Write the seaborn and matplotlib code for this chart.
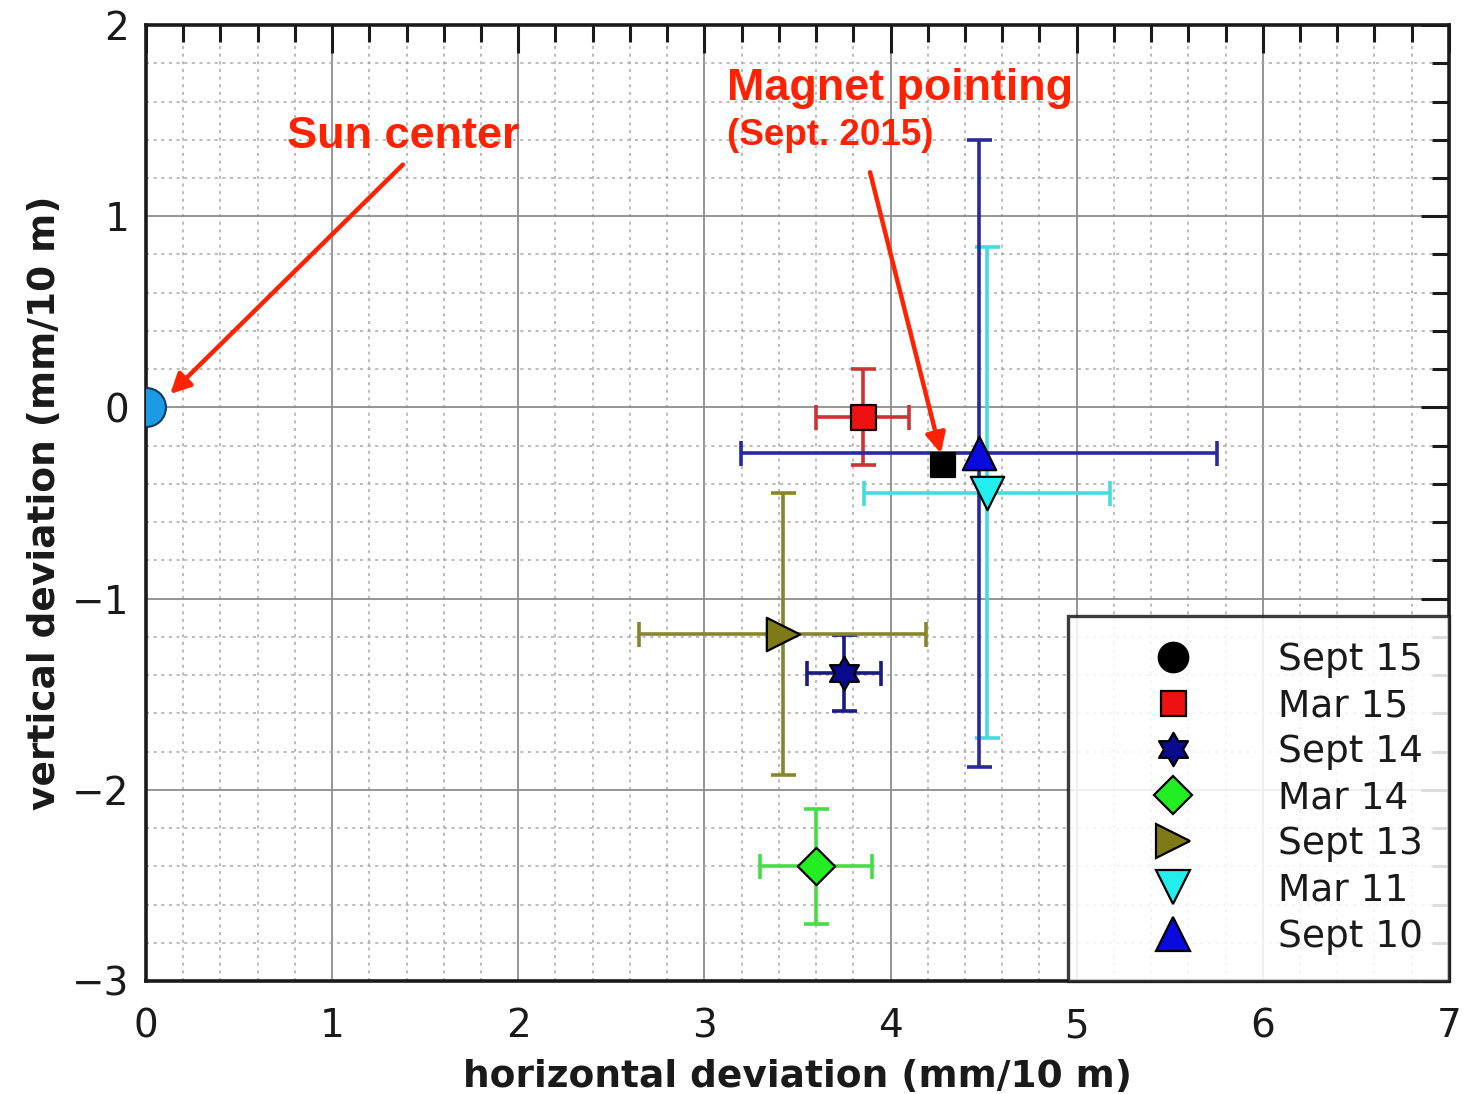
import numpy as np
import pandas as pd
import matplotlib
matplotlib.use("Agg")
import matplotlib.pyplot as plt
from matplotlib.lines import Line2D
from matplotlib.path import Path
from matplotlib.ticker import MultipleLocator
import seaborn as sns

# Measurement campaigns: pointing offsets with uncertainties
labels = ["Sept 15", "Mar 15", "Sept 14", "Mar 14", "Sept 13", "Mar 11", "Sept 10"]
x_dev = [4.28, 3.85, 3.75, 3.60, 3.42, 4.52, 4.475]
y_dev = [-0.30, -0.05, -1.39, -2.40, -1.185, -0.445, -0.24]
x_err = [0.0, 0.25, 0.20, 0.30, 0.77, 0.66, 1.28]
y_err = [0.0, 0.25, 0.20, 0.30, 0.74, 1.285, 1.64]

sun_x, sun_y = [0.0], [0.0]

# six-pointed star (hexagram) marker outline
ang = np.pi / 2 + np.arange(12) * np.pi / 6
rad = np.where(np.arange(12) % 2 == 0, 1.0, 1.0 / np.sqrt(3))
hex_verts = np.column_stack([rad * np.cos(ang), rad * np.sin(ang)])
hex_verts = np.vstack([hex_verts, hex_verts[:1]])
hexagram = Path(hex_verts, closed=True)

plot_markers = ["s", "s", hexagram, "D", ">", "v", "^"]
legend_markers = ["o", "s", hexagram, "D", ">", "v", "^"]
face_colors = ["#000000", "#ee1111", "#0a0a8c", "#22ee22", "#7f7a18", "#22eeee", "#0a0adf"]
bar_colors = ["#000000", "#cc3333", "#1a1a80", "#44dd44", "#88862a", "#44dddd", "#2a2a9a"]
marker_sizes = [17, 18, 24, 19, 24, 24, 24]

df = pd.DataFrame({"campaign": labels, "x": x_dev, "y": y_dev,
                   "xerr": x_err, "yerr": y_err})

sns.set_theme(style="white")
plt.rcParams["font.family"] = ["DejaVu Sans"]

fig = plt.figure(figsize=(14.82, 10.94), dpi=100)
ax = fig.add_axes([0.0985, 0.1033, 0.8792, 0.8738])

# error bars
for i, row in df.iterrows():
    if row["xerr"] > 0:
        ax.errorbar(row["x"], row["y"], xerr=row["xerr"], yerr=row["yerr"],
                    fmt="none", ecolor=bar_colors[i], elinewidth=2.6,
                    capsize=9, capthick=2.6, zorder=3)

# markers
for i, row in df.iterrows():
    sns.scatterplot(x=[row["x"]], y=[row["y"]], marker=plot_markers[i],
                    s=marker_sizes[i] ** 2, color=face_colors[i],
                    edgecolor="black", linewidth=1.6, ax=ax, zorder=4,
                    legend=False)

# sun center reference
sns.scatterplot(x=sun_x, y=sun_y, marker="o", s=28 ** 2, color="#1a9be3",
                edgecolor="#0a3a66", linewidth=1.5, ax=ax, zorder=4,
                legend=False)

ax.set_xlim(0, 7)
ax.set_ylim(-3, 2)
ax.xaxis.set_major_locator(MultipleLocator(1))
ax.yaxis.set_major_locator(MultipleLocator(1))
ax.xaxis.set_minor_locator(MultipleLocator(0.2))
ax.yaxis.set_minor_locator(MultipleLocator(0.2))

ax.grid(which="major", color="#8c8c8c", linewidth=1.3, linestyle="-")
ax.grid(which="minor", color="#a8a8a8", linewidth=1.1, linestyle=(0, (2, 3)))
ax.set_axisbelow(True)

for sp in ax.spines.values():
    sp.set_color("#1a1a1a")
    sp.set_linewidth(2.6)

ax.tick_params(which="both", direction="in", top=True, right=True,
               color="#1a1a1a", width=2.2)
ax.tick_params(which="major", length=20, labelsize=28, colors="#1a1a1a")
ax.tick_params(which="minor", length=12)
ax.tick_params(axis="x", which="major", pad=19)
ax.tick_params(axis="y", which="major", pad=12)

ax.set_xlabel("horizontal deviation (mm/10 m)", fontsize=27, fontweight="bold",
              color="#1a1a1a", labelpad=10)
ax.set_ylabel("vertical deviation (mm/10 m)", fontsize=27, fontweight="bold",
              color="#1a1a1a", labelpad=6)

# legend
handles = [Line2D([], [], linestyle="none", marker=legend_markers[i],
                  markersize=marker_sizes[i] * (1.25 if legend_markers[i] == "o" else 1.0),
                  markerfacecolor=face_colors[i], markeredgecolor="black",
                  markeredgewidth=1.6)
           for i in range(len(labels))]
leg = ax.legend(handles, labels, loc="lower right", fontsize=27,
                frameon=True, fancybox=False, borderaxespad=0,
                handlelength=4.2, handletextpad=0.7, borderpad=0.7,
                labelspacing=0.27, framealpha=0.85)
leg.get_frame().set_edgecolor("#1a1a1a")
leg.get_frame().set_linewidth(2.4)
for t in leg.get_texts():
    t.set_color("#1a1a1a")

# annotations
red = "#ff2200"
ax.text(1.38, 1.31, "Sun center", fontsize=32.5, fontweight="bold",
        color=red, family="Liberation Sans", ha="center", va="bottom")
ax.annotate("", xy=(0.13, 0.07), xytext=(1.38, 1.27),
            arrowprops=dict(arrowstyle="-|>", color=red, lw=3.2,
                            mutation_scale=30, shrinkA=0, shrinkB=0))
ax.text(3.12, 1.56, "Magnet pointing", fontsize=32.3, fontweight="bold",
        color=red, family="Liberation Sans", ha="left", va="bottom")
ax.text(3.12, 1.33, "(Sept. 2015)", fontsize=26.5, fontweight="bold",
        color=red, family="Liberation Sans", ha="left", va="bottom")
ax.annotate("", xy=(4.27, -0.24), xytext=(3.89, 1.23),
            arrowprops=dict(arrowstyle="-|>", color=red, lw=3.2,
                            mutation_scale=30, shrinkA=0, shrinkB=0))

fig.savefig("out.png", dpi=100, facecolor="white")
